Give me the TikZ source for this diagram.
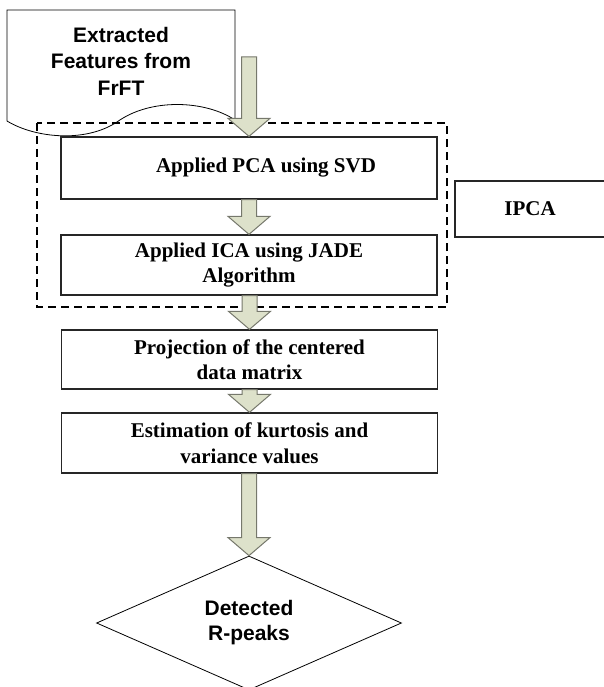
\documentclass[tikz,border=0pt]{standalone}
\usepackage{fontspec}
\setmainfont{Liberation Serif}
\newfontfamily\arialfont{Liberation Sans}
\usetikzlibrary{shapes.geometric, calc}
\definecolor{arrowfill}{RGB}{221,225,202}
\definecolor{arrowline}{RGB}{118,120,108}

% block arrow from one anchor down to another
\newcommand{\blockarr}[2]{%
  \path[farrow] let \p1=(#1), \p2=(#2) in
    (\x2-7.5pt,\y1) -- (\x2+7.5pt,\y1) -- (\x2+7.5pt,\y2+18pt)
    -- (\x2+21pt,\y2+18pt) -- (\x2,\y2) -- (\x2-21pt,\y2+18pt)
    -- (\x2-7.5pt,\y2+18pt) -- cycle;}

\begin{document}
\begin{tikzpicture}[x=1pt, y=-1pt,
  box/.style={rectangle, draw=black!85, line width=1.3pt, fill=white,
              align=center, font=\bfseries\fontsize{21}{25.5}\selectfont,
              minimum width=376pt, minimum height=60pt, inner sep=0pt},
  ibox/.style={rectangle, draw=black!85, line width=1.3pt,
               font=\bfseries\fontsize{21}{25.5}\selectfont,
               minimum width=150pt, minimum height=56pt},
  dec/.style={diamond, draw=black, line width=0.8pt, align=center,
              font=\arialfont\bfseries\fontsize{21}{25}\selectfont,
              aspect=2.28, inner sep=0pt,
              minimum width=305pt, minimum height=134pt},
  doc/.style={draw=black, line width=0.8pt, fill=white},
  grp/.style={draw=black, line width=2pt, dash pattern=on 8pt off 5pt},
  farrow/.style={draw=arrowline, fill=arrowfill, line width=1pt}
]
\useasboundingbox (0,0) rectangle (604,687);

% input document
\draw[doc] (7,10) -- (235,10) -- (235,120)
  .. controls (205,100) and (150,98) .. (117,122)
  .. controls (85,143) and (35,138) .. (7,121) -- cycle;
\node[align=center, font=\arialfont\bfseries\fontsize{21}{26.5}\selectfont]
  (feat) at (121,61) {Extracted\\Features from\\FrFT};
\coordinate (fs) at (249,57);

% IPCA group
\draw[grp] (37,123) rectangle (447,307);
\node[ibox] (ipca) at (530,209) {IPCA};

\node[box, minimum height=62pt] (pca) at (249,168)
  {\hspace*{34pt}Applied PCA using SVD};
\node[box] (ica)  at (249,265) {Applied ICA using JADE\\Algorithm};
\node[box, minimum height=59pt] (proj) at (249.5,359.5)
  {Projection of the centered\\data matrix};
\node[box] (est)  at (249.5,443) {Estimation of kurtosis and\\variance values};
\node[dec] (det)  at (249,623) {Detected\\R-peaks};

\blockarr{fs}{pca.north}
\blockarr{pca.south}{ica.north}
\blockarr{ica.south}{proj.north}
\blockarr{proj.south}{est.north}
\blockarr{est.south}{det.north}
\end{tikzpicture}
\end{document}
